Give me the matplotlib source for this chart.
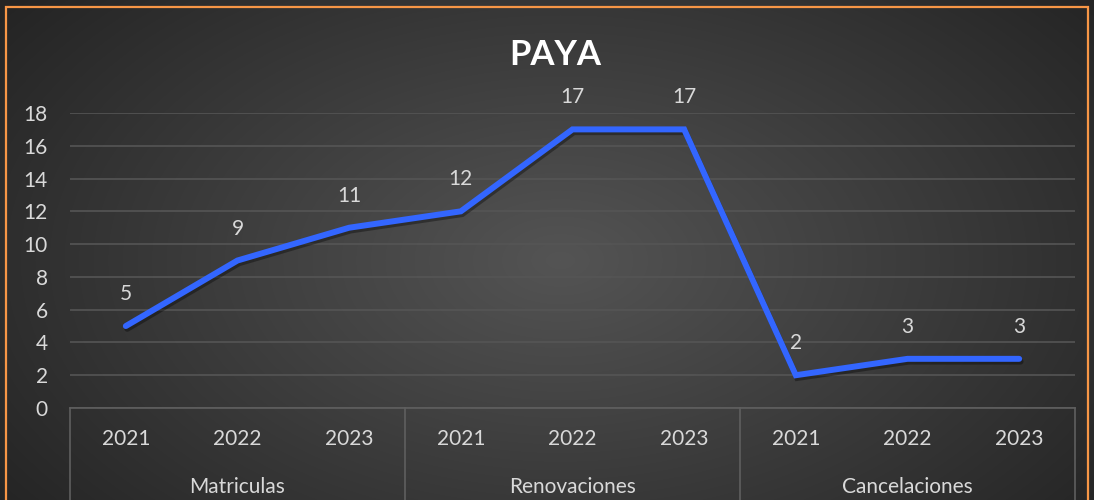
import numpy as np
import matplotlib
matplotlib.use('Agg')
import matplotlib.pyplot as plt
import matplotlib.patheffects as pe
from matplotlib.patches import Rectangle

groups = ['Matriculas', 'Renovaciones', 'Cancelaciones']
years = ['2021', '2022', '2023']
values = [5, 9, 11, 12, 17, 17, 2, 3, 3]

plt.rcParams['font.family'] = ['Lato', 'DejaVu Sans']
txt = '#d9d9d9'

fig = plt.figure(figsize=(10.94, 5.0), dpi=100)

# radial gradient background
bg = fig.add_axes([0, 0, 1, 1], zorder=-10)
yy, xx = np.mgrid[0:500, 0:1094]
d = np.sqrt(((xx - 560) / 700.0) ** 2 + ((yy - 260) / 420.0) ** 2)
d = np.clip(d, 0, 1)
shade = (0x54 - (0x54 - 0x24) * d) / 255.0
bg.imshow(np.dstack([shade, shade, shade]), aspect='auto', extent=[0, 1, 0, 1])
bg.axis('off')
fig.add_artist(Rectangle((6 / 1094, -0.1), 1082 / 1094, 1.1 - 7 / 500,
                         transform=fig.transFigure, fill=False,
                         edgecolor='#f79646', linewidth=1.6, zorder=20))

ax = fig.add_axes([70 / 1094, 92 / 500, 1005 / 1094, 295 / 500])
ax.set_facecolor('none')
x = np.arange(len(values))
ax.plot(x, values, color='#3366ff', linewidth=4.3, solid_capstyle='round',
        solid_joinstyle='miter',
        path_effects=[pe.SimpleLineShadow(offset=(1, -2), alpha=0.35, shadow_color='black'),
                      pe.Normal()])
for xi, v in zip(x, values):
    ax.annotate(str(v), (xi, v), xytext=(0, 23), textcoords='offset points',
                ha='center', va='center', color=txt, fontsize=15)

ax.set_xlim(-0.5, len(values) - 0.5)
ax.set_ylim(0, 18)
ax.set_yticks(range(0, 19, 2))
ax.yaxis.grid(True, color='#555555', linewidth=1.2)
ax.set_axisbelow(True)
ax.tick_params(axis='y', length=0, pad=16, labelsize=15, labelcolor=txt)
ax.set_xticks([])
for s in ['top', 'right', 'left']:
    ax.spines[s].set_visible(False)
ax.spines['bottom'].set_color('#5f5f5f')
ax.spines['bottom'].set_linewidth(1.2)

# two-level category axis
for i, v in enumerate(values):
    ax.text(i, -31 / 295, years[i % 3], transform=ax.get_xaxis_transform(),
            ha='center', va='center', color=txt, fontsize=15)
for g, name in enumerate(groups):
    ax.text(g * 3 + 1, -79 / 295, name, transform=ax.get_xaxis_transform(),
            ha='center', va='center', color=txt, fontsize=15)
for b in [-0.5, 2.5, 5.5, 8.5]:
    ax.plot([b, b], [0, -0.4], transform=ax.get_xaxis_transform(),
            color='#5f5f5f', linewidth=1.2, clip_on=False)

fig.text(555 / 1094, 1 - 55 / 500, 'PAYA', ha='center', va='center',
         color='white', fontsize=25, fontweight='bold')

fig.savefig('out.png', dpi=100)
